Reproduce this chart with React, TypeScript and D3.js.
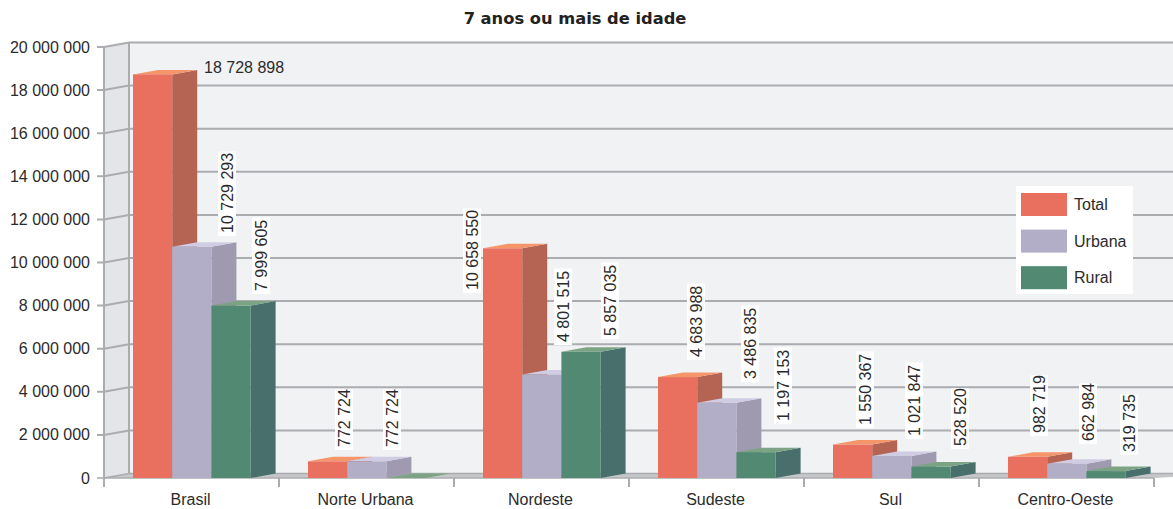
import React from "react";
import * as d3 from "d3";

const categories = ["Brasil", "Norte Urbana", "Nordeste", "Sudeste", "Sul", "Centro-Oeste"];
const seriesNames = ["Total", "Urbana", "Rural"];
const total = [18728898, 772724, 10658550, 4683988, 1550367, 982719];
const urbana = [10729293, 772724, 4801515, 3486835, 1021847, 662984];
const rural = [7999605, 0, 5857035, 1197153, 528520, 319735];
const yTicks = [0, 2, 4, 6, 8, 10, 12, 14, 16, 18, 20].map((d) => d * 1000000);

const frontColors = ["#E96F5E", "#B2AEC8", "#528972"];
const sideColors = ["#B56453", "#9F9AB0", "#486F6C"];
const topColors = ["#F5956A", "#CFCCE4", "#7BA384"];

// label layout: [centre x, bottom y] for each rotated value label, by series then category
const labelAnchors = [
  [null, [344, 447], [472, 290], [696, 357], [865, 425], [1039, 433]],
  [[227, 233], [392, 447], [563, 342], [750, 379], [914, 436], [1088, 441]],
  [[261, 291], null, [610, 336], [783, 421], [960, 446], [1129, 452]],
];

const fmt = (v: number) => String(v).replace(/\B(?=(\d{3})+$)/g, " ");

const W = 1173;
const H = 509;
const DX = 25;
const DY = -4.5;
const GRID = "#ABACAF";
const FONT = "'Liberation Sans', Arial, sans-serif";
const FS = 16;

export default function App() {
  const y = d3.scaleLinear().domain([0, 20000000]).range([478, 47]);
  const x = d3.scaleBand<string>().domain(categories).range([104, 1154]);
  const barW = 39.2;
  const barOffset = 29;
  const series = [total, urbana, rural];
  const y0 = y(0);
  const poly = (pts: number[][]) => pts.map((p) => p.join(",")).join(" ");

  return (
    <svg
      width={W}
      height={H}
      style={{ position: "absolute", left: 0, top: 0, display: "block", background: "#fff" }}
      fontFamily={FONT}
    >
      <text x={575} y={24} textAnchor="middle" fontFamily="'DejaVu Sans', sans-serif" fontWeight={700} fontSize={16.3} fill="#222">
        7 anos ou mais de idade
      </text>

      {/* walls and floor */}
      <rect x={104 + DX} y={y(20000000) + DY} width={W - 104 - DX} height={y0 - y(20000000)} fill="#F1F2F4" />
      <polygon
        points={poly([[104, y(20000000)], [104 + DX, y(20000000) + DY], [104 + DX, y0 + DY], [104, y0]])}
        fill="#E4E5E8"
      />
      <polygon points={poly([[104, y0], [104 + DX, y0 + DY], [W, y0 + DY], [W, y0 - 1], [1154, y0]])} fill="#C6C7C9" />

      {yTicks.map((t) => (
        <g key={t}>
          <path
            d={`M97,${y(t)}H104L${104 + DX},${y(t) + DY}H${W}`}
            fill="none"
            stroke={GRID}
            strokeWidth={t === 0 ? 1.5 : 2}
          />
          <text x={90} y={y(t) + 5.5} textAnchor="end" fontSize={FS} fill="#2b2b2b">
            {fmt(t)}
          </text>
        </g>
      ))}
      <line x1={104} x2={104} y1={y(20000000)} y2={y0 + 9} stroke={GRID} strokeWidth={2} />
      <line x1={104 + DX} x2={104 + DX} y1={y(20000000) + DY} y2={y0 + DY} stroke={GRID} strokeWidth={2} />
      <line x1={104} x2={1154} y1={y0} y2={y0} stroke={GRID} strokeWidth={1.5} />
      {categories.map((c) => (
        <line key={c} x1={x(c)! + x.bandwidth()} x2={x(c)! + x.bandwidth()} y1={y0} y2={y0 + 9} stroke={GRID} strokeWidth={2} />
      ))}
      {categories.map((c) => (
        <text key={c} x={x(c)! + x.bandwidth() / 2 - 1} y={505} textAnchor="middle" fontSize={FS} fill="#2b2b2b">
          {c}
        </text>
      ))}

      {/* bars */}
      {categories.map((c, ci) => (
        <g key={c}>
          {series.map((s, si) => {
            const x0 = x(c)! + barOffset + si * barW;
            const x1 = x0 + barW;
            const t = y(s[ci]);
            return (
              <g key={si}>
                <polygon points={poly([[x1, t], [x1 + DX, t + DY], [x1 + DX, y0 + DY], [x1, y0]])} fill={sideColors[si]} />
                <polygon points={poly([[x0, t], [x0 + DX, t + DY], [x1 + DX, t + DY], [x1, t]])} fill={topColors[si]} />
                <rect x={x0} y={t} width={barW} height={y0 - t} fill={frontColors[si]} />
              </g>
            );
          })}
        </g>
      ))}

      {/* value labels */}
      <text x={204} y={73} fontSize={FS} fill="#2b2b2b">
        {fmt(total[0])}
      </text>
      {series.map((s, si) =>
        categories.map((c, ci) => {
          const a = labelAnchors[si][ci];
          if (!a) return null;
          const str = fmt(s[ci]);
          const len = str.length * 7.95 + 5;
          return (
            <g key={c + si} transform={`translate(${a[0]},${a[1]}) rotate(-90)`}>
              <rect x={-3} y={-9} width={len} height={18} fill="#fff" />
              <text x={0} y={5.5} fontSize={FS} fill="#2b2b2b">
                {str}
              </text>
            </g>
          );
        })
      )}

      {/* legend */}
      <rect x={1016} y={186} width={117} height={108} fill="#fff" />
      {seriesNames.map((n, i) => (
        <g key={n}>
          <rect x={1021} y={193 + i * 36.6} width={46} height={23} fill={frontColors[i]} />
          <text x={1074} y={210 + i * 36.6} fontSize={FS} fill="#2b2b2b">
            {n}
          </text>
        </g>
      ))}
    </svg>
  );
}
